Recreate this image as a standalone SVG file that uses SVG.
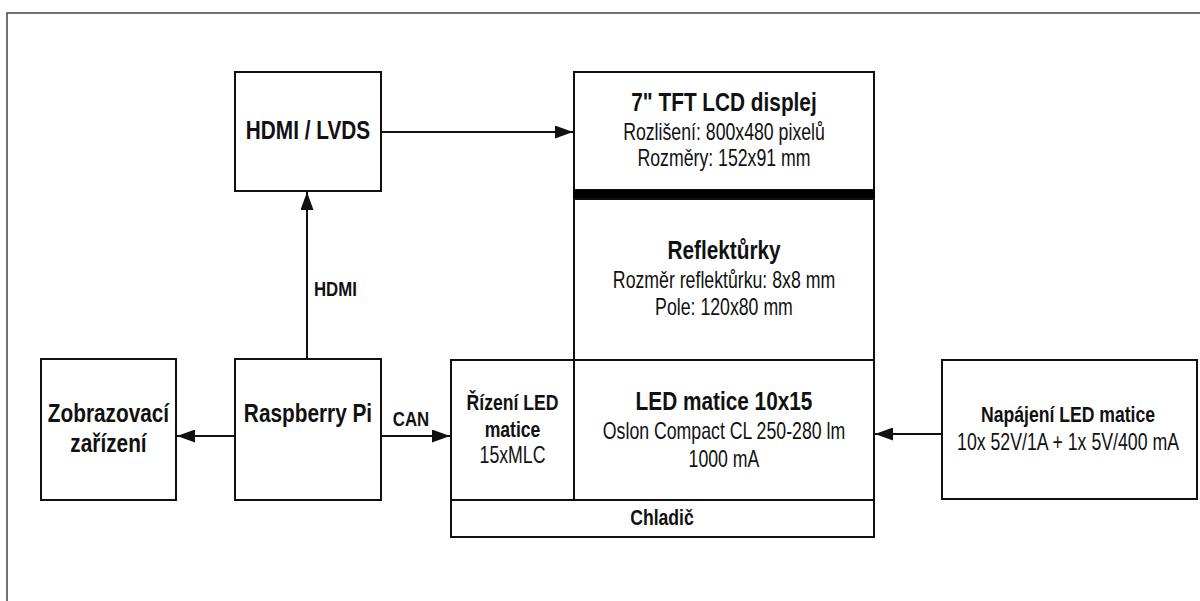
<svg xmlns="http://www.w3.org/2000/svg" width="1200" height="601" viewBox="0 0 1200 601">
<style>
.box{fill:#fff;stroke:#111;stroke-width:2}
.ln{fill:none;stroke:#111;stroke-width:2}
.t{font-family:"Liberation Sans",Arial,sans-serif;fill:#111;text-anchor:middle}
.b{font-weight:bold}
.s26{font-size:26px}
.s22{font-size:22px}
.s23{font-size:23px}
.s21{font-size:21px}
</style>
<defs>
<marker id="ah" markerUnits="userSpaceOnUse" markerWidth="18" markerHeight="13" refX="18" refY="6.5" orient="auto">
<path d="M0,0 L18,6.5 L0,13 Z" fill="#111"/>
</marker>
</defs>
<rect width="1200" height="601" fill="#fff"/>
<rect x="7" y="13" width="1200" height="600" fill="none" stroke="#444" stroke-width="1.5"/>

<g id="hdmi-lvds">
<rect class="box" x="235" y="72" width="146" height="119"/>
<text class="t b s26" transform="translate(308,0) scale(0.8,1)" x="0" y="139">HDMI / LVDS</text>
</g>

<g id="tft-lcd">
<rect class="box" x="574" y="72" width="300" height="118"/>
<text class="t b s26" transform="translate(724,0) scale(0.8,1)" x="0" y="111">7" TFT LCD displej</text>
<text class="t s23" transform="translate(724,0) scale(0.77,1)" x="0" y="140">Rozlišení: 800x480 pixelů</text>
<text class="t s23" transform="translate(724,0) scale(0.77,1)" x="0" y="166">Rozměry: 152x91 mm</text>
<rect x="573" y="190" width="302" height="9" fill="#000"/>
</g>

<g id="reflekturky">
<rect class="box" x="574" y="199" width="300" height="161"/>
<text class="t b s26" transform="translate(724,0) scale(0.8,1)" x="0" y="259">Reflektůrky</text>
<text class="t s23" transform="translate(724,0) scale(0.77,1)" x="0" y="288">Rozměr reflektůrku: 8x8 mm</text>
<text class="t s23" transform="translate(724,0) scale(0.77,1)" x="0" y="315">Pole: 120x80 mm</text>
</g>

<g id="rizeni-led">
<rect class="box" x="451" y="360" width="123" height="140"/>
<text class="t b s22" transform="translate(512.5,0) scale(0.8,1)" x="0" y="410">Řízení LED</text>
<text class="t b s22" transform="translate(512.5,0) scale(0.8,1)" x="0" y="437">matice</text>
<text class="t s23" transform="translate(512.5,0) scale(0.77,1)" x="0" y="463">15xMLC</text>
</g>

<g id="led-matice">
<rect class="box" x="574" y="360" width="300" height="140"/>
<text class="t b s26" transform="translate(724,0) scale(0.8,1)" x="0" y="410">LED matice 10x15</text>
<text class="t s23" transform="translate(724,0) scale(0.77,1)" x="0" y="439">Oslon Compact CL 250-280 lm</text>
<text class="t s23" transform="translate(724,0) scale(0.77,1)" x="0" y="467">1000 mA</text>
</g>

<g id="chladic">
<rect class="box" x="451" y="500" width="423" height="37"/>
<text class="t b s22" transform="translate(662,0) scale(0.8,1)" x="0" y="525">Chladič</text>
</g>

<g id="zobrazovaci">
<rect class="box" x="41" y="359" width="135" height="141"/>
<text class="t b s26" transform="translate(108.5,0) scale(0.8,1)" x="0" y="422">Zobrazovací</text>
<text class="t b s26" transform="translate(108.5,0) scale(0.8,1)" x="0" y="452">zařízení</text>
</g>

<g id="raspberry">
<rect class="box" x="235" y="359" width="146" height="141"/>
<text class="t b s26" transform="translate(308,0) scale(0.8,1)" x="0" y="422">Raspberry Pi</text>
</g>

<g id="napajeni">
<rect class="box" x="942" y="360" width="255" height="139"/>
<text class="t b s22" transform="translate(1068,0) scale(0.8,1)" x="0" y="422">Napájení LED matice</text>
<text class="t s23" transform="translate(1068,0) scale(0.77,1)" x="0" y="450">10x 52V/1A + 1x 5V/400 mA</text>
</g>

<g id="connectors">
<line class="ln" x1="307" y1="359" x2="307" y2="192" marker-end="url(#ah)"/>
<line class="ln" x1="381" y1="132" x2="573" y2="132" marker-end="url(#ah)"/>
<line class="ln" x1="235" y1="436" x2="177" y2="436" marker-end="url(#ah)"/>
<line class="ln" x1="381" y1="436" x2="450" y2="436" marker-end="url(#ah)"/>
<line class="ln" x1="942" y1="434" x2="875" y2="434" marker-end="url(#ah)"/>
<text class="t b s21" transform="translate(314,0) scale(0.8,1)" x="0" y="296" style="text-anchor:start">HDMI</text>
<text class="t b s21" transform="translate(411,0) scale(0.8,1)" x="0" y="426">CAN</text>
</g>
</svg>
